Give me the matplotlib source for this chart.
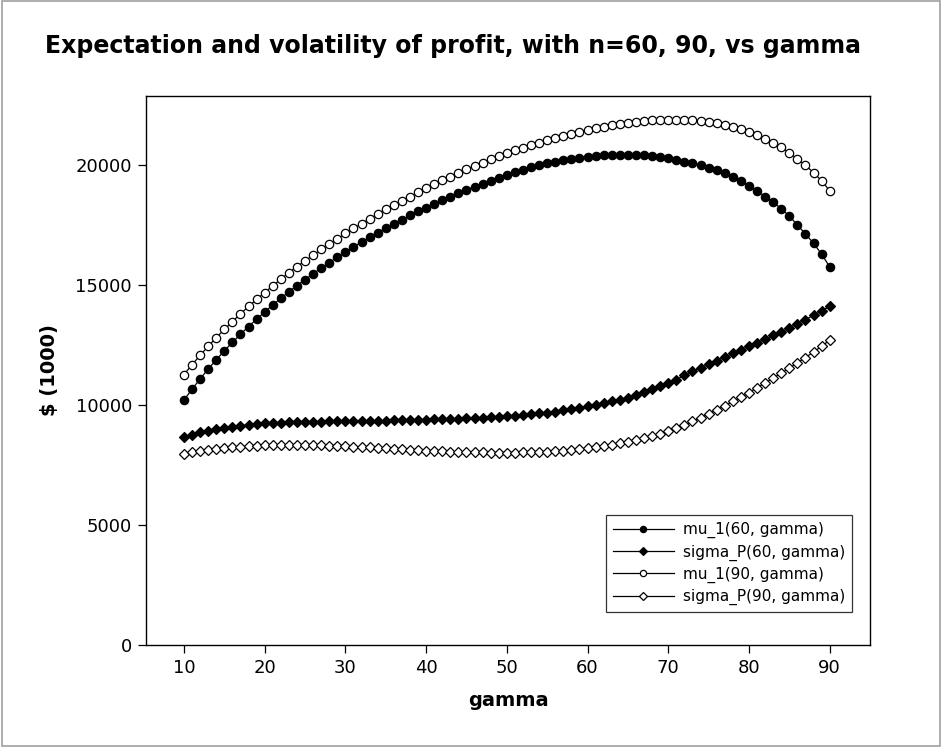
import numpy as np
import matplotlib.pyplot as plt
from matplotlib.patches import Rectangle

# gamma runs from 10 to 90 in steps of 1
gamma = list(range(10, 91))

mu_60 = [10210, 10660, 11090, 11500, 11890, 12260, 12610, 12950, 13270, 13580,
         13880, 14170, 14450, 14720, 14980, 15230, 15470, 15710, 15940, 16160,
         16380, 16590, 16790, 16990, 17180, 17370, 17550, 17730, 17900, 18070,
         18230, 18390, 18540, 18690, 18830, 18970, 19100, 19230, 19350, 19470,
         19590, 19700, 19800, 19900, 19990, 20070, 20140, 20200, 20260, 20310,
         20350, 20380, 20410, 20430, 20440, 20440, 20430, 20410, 20380, 20340,
         20290, 20230, 20150, 20070, 19990, 19890, 19780, 19650, 19490, 19320,
         19130, 18930, 18690, 18460, 18180, 17880, 17500, 17130, 16740, 16290,
         15760]

sigma_60 = [8650, 8770, 8860, 8930, 9000, 9050, 9100, 9140, 9180, 9210,
            9240, 9250, 9260, 9280, 9290, 9300, 9310, 9310, 9320, 9320,
            9330, 9330, 9340, 9340, 9350, 9350, 9360, 9360, 9370, 9380,
            9390, 9400, 9410, 9420, 9430, 9450, 9460, 9480, 9500, 9510,
            9530, 9560, 9590, 9620, 9650, 9690, 9730, 9780, 9830, 9890,
            9950, 10010, 10080, 10150, 10220, 10300, 10420, 10530, 10650, 10780,
            10910, 11050, 11250, 11400, 11550, 11700, 11850, 12000, 12150, 12300,
            12450, 12600, 12750, 12900, 13050, 13220, 13390, 13560, 13740, 13920,
            14120]

mu_90 = [11270, 11680, 12070, 12450, 12810, 13150, 13480, 13800, 14110, 14400,
         14690, 14970, 15250, 15510, 15770, 16010, 16250, 16490, 16710, 16930,
         17150, 17360, 17560, 17760, 17960, 18150, 18330, 18520, 18690, 18870,
         19030, 19200, 19360, 19520, 19670, 19820, 19960, 20100, 20240, 20370,
         20490, 20610, 20720, 20830, 20930, 21030, 21120, 21210, 21300, 21380,
         21460, 21530, 21600, 21660, 21710, 21760, 21800, 21830, 21860, 21880,
         21890, 21890, 21880, 21860, 21830, 21790, 21740, 21680, 21600, 21490,
         21380, 21250, 21100, 20930, 20740, 20510, 20260, 20000, 19680, 19350,
         18930]

sigma_90 = [7950, 8030, 8090, 8140, 8180, 8220, 8250, 8270, 8290, 8310,
            8320, 8330, 8330, 8340, 8340, 8330, 8330, 8320, 8310, 8300,
            8290, 8270, 8260, 8240, 8220, 8200, 8180, 8160, 8140, 8120,
            8100, 8090, 8070, 8060, 8050, 8040, 8030, 8030, 8020, 8020,
            8020, 8020, 8030, 8040, 8050, 8060, 8080, 8100, 8130, 8160,
            8200, 8240, 8290, 8340, 8400, 8460, 8530, 8610, 8700, 8800,
            8900, 9030, 9170, 9320, 9470, 9630, 9800, 9970, 10150, 10330,
            10520, 10720, 10920, 11120, 11330, 11540, 11760, 11980, 12210, 12450,
            12700]

labels = ['mu_1(60, gamma)', 'sigma_P(60, gamma)', 'mu_1(90, gamma)', 'sigma_P(90, gamma)']

plt.rcParams['font.family'] = ['DejaVu Sans']

fig = plt.figure(figsize=(9.42, 7.47), dpi=100)
ax = fig.add_axes([0.155, 0.1365, 0.7686, 0.735])

# thin grey frame round the whole picture
fig.patches.append(Rectangle((0.002, 0.002), 0.996, 0.996, transform=fig.transFigure,
                             fill=False, edgecolor='#a0a0a0', linewidth=1.2))

style = dict(color='black', linewidth=0.9, markersize=6, markeredgewidth=0.9)
ax.plot(gamma, mu_60, marker='o', markerfacecolor='black', label=labels[0], **style)
ax.plot(gamma, sigma_60, marker='D', markerfacecolor='black', label=labels[1],
        **{**style, 'markersize': 5.5})
ax.plot(gamma, mu_90, marker='o', markerfacecolor='white', label=labels[2], **style)
ax.plot(gamma, sigma_90, marker='D', markerfacecolor='white', label=labels[3],
        **{**style, 'markersize': 5.5})

ax.set_xlim(5.3, 95.0)
ax.set_ylim(0, 22880)
ax.set_xticks(range(10, 91, 10))
ax.set_yticks(range(0, 20001, 5000))
ax.tick_params(direction='out', length=6, width=0.9, labelsize=13, pad=4)
for s in ax.spines.values():
    s.set_linewidth(1.0)

ax.set_xlabel('gamma', fontsize=14, fontweight='bold', labelpad=10)
ax.set_ylabel('$ (1000)', fontsize=14, fontweight='bold', labelpad=12)
fig.suptitle('Expectation and volatility of profit, with n=60, 90, vs gamma',
             fontsize=17, fontweight='bold', x=0.481, y=0.955)

leg = ax.legend(loc='lower right', bbox_to_anchor=(0.975, 0.06), borderaxespad=0,
                fontsize=11, frameon=True, fancybox=False, edgecolor='black',
                handlelength=4, markerscale=0.75, borderpad=0.45, labelspacing=0.4,
                handletextpad=0.6)
leg.get_frame().set_linewidth(0.9)

fig.savefig('out.png', dpi=100, facecolor='white')
